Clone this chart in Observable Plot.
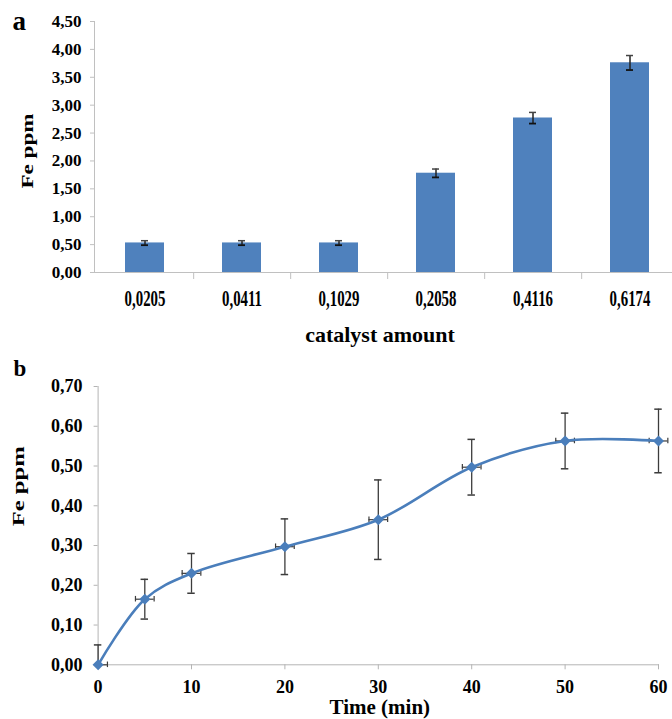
<!DOCTYPE html>
<html>
<head>
<meta charset="utf-8">
<script src="https://cdn.jsdelivr.net/npm/d3@7"></script>
<script src="https://cdn.jsdelivr.net/npm/@observablehq/plot@0.6"></script>
<style>
  html, body { margin: 0; padding: 0; background: #fff; overflow: hidden; }
  #wrap { position: relative; width: 672px; height: 719px; }
  #wrap svg { position: absolute; left: 0; }
</style>
</head>
<body>
<div id="wrap"></div>
<script>
// ---------- Panel a data ----------
const catalystAmounts = ["0,0205", "0,0411", "0,1029", "0,2058", "0,4116", "0,6174"];
const feA = [0.53, 0.53, 0.53, 1.78, 2.77, 3.76];
const errA = [0.04, 0.04, 0.04, 0.075, 0.10, 0.13];
const yTicksA = [0, 0.5, 1, 1.5, 2, 2.5, 3, 3.5, 4, 4.5];

// ---------- Panel b data ----------
const timeMin = [0, 5, 10, 20, 30, 40, 50, 60];
const feB = [0, 0.165, 0.23, 0.297, 0.365, 0.497, 0.563, 0.563];
const errB = [0.05, 0.05, 0.05, 0.07, 0.10, 0.07, 0.07, 0.08];
const errTime = [1, 1, 1, 1, 1, 1, 1, 1];
const yTicksB = [0, 0.1, 0.2, 0.3, 0.4, 0.5, 0.6, 0.7];
const xTicksB = [0, 10, 20, 30, 40, 50, 60];

const fmt2 = d => d.toFixed(2).replace(".", ",");
const FONT = '"Liberation Serif", "Times New Roman", serif';
const AXIS_GREY = "#c0c0c0";

function stretchWhere(svg, pred, sx, sy) {
  svg.querySelectorAll("text").forEach(t => {
    if (!pred(t)) return;
    const tr = t.getAttribute("transform") || "";
    t.setAttribute("transform", `${tr} scale(${sx},${sy})`);
  });
}

// ---------- Panel a ----------
const rangeA = [95, 679];
const stepA = (rangeA[1] - rangeA[0]) / catalystAmounts.length;
const dataA = catalystAmounts.map((c, i) => ({c, v: feA[i], e: errA[i]}));

const plotA = Plot.plot({
  width: 672, height: 350,
  marginLeft: 94, marginRight: 0, marginTop: 21, marginBottom: 78,
  style: {fontFamily: FONT, fontWeight: "bold", color: "#000", background: "transparent", overflow: "hidden"},
  x: {type: "band", domain: catalystAmounts, range: rangeA, paddingInner: 0.6, paddingOuter: 0.3, label: null},
  y: {domain: [0, 4.5], label: null},
  marks: [
    Plot.frame({anchor: "left", stroke: AXIS_GREY}),
    Plot.axisY(yTicksA, {tickSize: 4, tickPadding: 9, tickFormat: fmt2, fontSize: 17, fontFamily: FONT, stroke: AXIS_GREY, fill: "#000", label: null}),
    Plot.barY(dataA, {x: "c", y: "v", fill: "#4f81bd"}),
    Plot.ruleX(dataA, {x: "c", y1: d => d.v - d.e, y2: d => d.v + d.e, stroke: "#222", strokeWidth: 1.5}),
    Plot.tickY(dataA, {x: "c", y: d => d.v + d.e, insetLeft: 16, insetRight: 16, stroke: "#444", strokeWidth: 1.5}),
    Plot.tickY(dataA, {x: "c", y: d => d.v - d.e, insetLeft: 16, insetRight: 16, stroke: "#111", strokeWidth: 1.8}),
    Plot.ruleY([0], {stroke: AXIS_GREY}),
    Plot.axisX(catalystAmounts.slice(0, -1), {tickSize: 7, dx: stepA / 2, tickFormat: () => "", stroke: AXIS_GREY, label: null}),
    Plot.axisX({tickSize: 0, tickPadding: 18, fontSize: 22.5, fontFamily: FONT, fill: "#000", label: null}),
    Plot.text(["catalyst amount"], {frameAnchor: "bottom", dx: -3.5, dy: 69, lineAnchor: "bottom", fontSize: 22, fontFamily: FONT, fill: "#000"}),
    Plot.text(["Fe ppm"], {frameAnchor: "left", dx: -66.5, dy: 4, rotate: -90, lineAnchor: "middle", textAnchor: "middle", fontSize: 16.5, fontFamily: FONT, fill: "#000"}),
    Plot.text(["a"], {frameAnchor: "top-left", dx: -82, dy: 8, textAnchor: "start", lineAnchor: "bottom", fontSize: 27, fontFamily: FONT, fill: "#000"})
  ]
});
stretchWhere(plotA, t => catalystAmounts.includes(t.textContent), 0.66, 1);
stretchWhere(plotA, t => t.textContent === "Fe ppm", 1.4, 1);
plotA.style.top = "0px";

// ---------- Panel b ----------
const dataB = timeMin.map((t, i) => ({t, v: feB[i], e: errB[i], et: errTime[i]}));
const capT = 0.4;   // half width of vertical error-bar caps (minutes)
const capV = 0.007; // half height of horizontal error-bar caps (ppm)
const diamond = {
  draw(ctx, size) {
    const r = Math.sqrt(size / 2);
    ctx.moveTo(0, -r); ctx.lineTo(r, 0); ctx.lineTo(0, r); ctx.lineTo(-r, 0); ctx.closePath();
  }
};

const plotB = Plot.plot({
  width: 672, height: 369,
  marginLeft: 97.6, marginRight: 14, marginTop: 36, marginBottom: 54.7,
  style: {fontFamily: FONT, fontWeight: "bold", color: "#000", background: "transparent", overflow: "visible"},
  x: {domain: [0, 60], label: null},
  y: {domain: [0, 0.7], label: null},
  marks: [
    Plot.frame({anchor: "left", stroke: "#b4b4b4"}),
    Plot.frame({anchor: "bottom", stroke: "#b4b4b4"}),
    Plot.axisY(yTicksB, {tickSize: 4, tickPadding: 11.5, tickFormat: fmt2, fontSize: 18, fontFamily: FONT, stroke: "#b4b4b4", fill: "#000", label: null}),
    Plot.axisX(xTicksB, {tickSize: 5, tickPadding: 10, tickFormat: d => String(d), fontSize: 18, fontFamily: FONT, stroke: "#b4b4b4", fill: "#000", label: null}),
    // vertical error bars
    Plot.ruleX(dataB, {x: "t", y1: d => Math.max(0, d.v - d.e), y2: d => d.v + d.e, stroke: "#3c3c3c", strokeWidth: 1.3}),
    Plot.ruleY(dataB, {y: d => d.v + d.e, x1: d => d.t - capT, x2: d => d.t + capT, stroke: "#3c3c3c", strokeWidth: 1.5}),
    Plot.ruleY(dataB.filter(d => d.v - d.e >= 0), {y: d => d.v - d.e, x1: d => d.t - capT, x2: d => d.t + capT, stroke: "#3c3c3c", strokeWidth: 1.5}),
    // horizontal error bars
    Plot.ruleY(dataB, {y: "v", x1: d => Math.max(0, d.t - d.et), x2: d => d.t + d.et, stroke: "#3c3c3c", strokeWidth: 1.2}),
    Plot.ruleX(dataB, {x: d => d.t + d.et, y1: d => d.v - capV, y2: d => d.v + capV, stroke: "#3c3c3c", strokeWidth: 1.2}),
    Plot.ruleX(dataB.filter(d => d.t - d.et >= 0), {x: d => d.t - d.et, y1: d => d.v - capV, y2: d => d.v + capV, stroke: "#3c3c3c", strokeWidth: 1.2}),
    Plot.line(dataB, {x: "t", y: "v", curve: "catmull-rom", stroke: "#4a7ebb", strokeWidth: 2.6}),
    Plot.dot(dataB, {x: "t", y: "v", symbol: diamond, r: 4.4, fill: "#4a7ebb", stroke: "none"}),
    Plot.text(["Time (min)"], {frameAnchor: "bottom", dx: 1.5, dy: 49.5, lineAnchor: "bottom", fontSize: 21, fontFamily: FONT, fill: "#000"}),
    Plot.text(["Fe ppm"], {frameAnchor: "left", dx: -80, dy: -39.4, rotate: -90, lineAnchor: "middle", textAnchor: "middle", fontSize: 17, fontFamily: FONT, fill: "#000"}),
    Plot.text(["b"], {frameAnchor: "top-left", dx: -84.6, dy: -11, textAnchor: "start", lineAnchor: "bottom", fontSize: 23, fontFamily: FONT, fill: "#000"})
  ]
});
stretchWhere(plotB, t => t.textContent === "Fe ppm", 1.45, 1);
plotB.style.top = "350px";

const wrap = document.getElementById("wrap");
wrap.appendChild(plotA);
wrap.appendChild(plotB);
</script>
</body>
</html>
